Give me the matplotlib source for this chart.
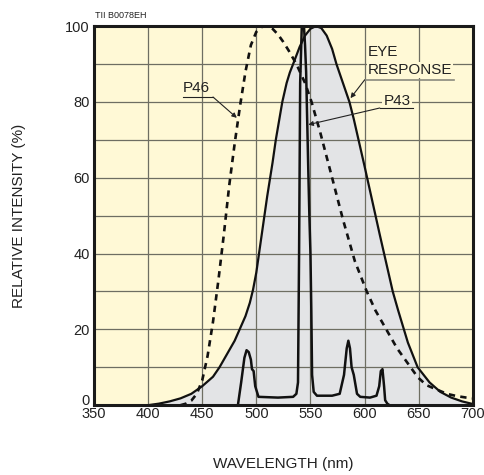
import numpy as np
import matplotlib.pyplot as plt
import matplotlib.transforms as mtrans

plt.rcParams['font.family'] = ['Liberation Sans', 'DejaVu Sans']

# eye response (photopic)
eye_wl = [400, 410, 420, 430, 440, 450, 460, 466, 470, 480, 490, 494, 497, 500, 505, 510,
          515, 518, 521, 524, 528, 531, 534, 540, 545, 550, 555, 560, 565, 570, 574, 580,
          586, 590, 600, 607, 614, 620, 626, 631, 640, 649, 660, 670, 680, 690, 700]
eye_val = [0, 0.4, 1.0, 1.8, 3.0, 5.0, 7.5, 10, 12, 17, 23.5, 27, 30.5, 35, 45, 55,
           64, 70, 75, 80, 85, 87.8, 90, 94.5, 97.5, 99.3, 100, 99.5, 97.5, 94, 90, 85,
           80, 75.5, 63, 54, 45, 37.5, 30, 25, 16.5, 10, 6, 3.5, 2, 1, 0.3]

# P46 phosphor (dashed)
p46_wl = [430, 435, 440, 445, 450, 455, 460, 465, 470, 475, 480, 485, 490, 495, 500, 505,
          510, 515, 520, 525, 530, 537, 545, 551, 559, 570, 580, 591, 602, 610, 620,
          630, 640, 649, 657, 666, 676, 685, 694, 700]
p46_val = [0, 0.4, 1.2, 3, 6.5, 13, 22, 33, 45, 58, 69, 79, 88, 95, 98.5, 99.8,
           100, 99.3, 97.8, 95.8, 93.5, 90, 85, 80, 72, 60, 49, 38, 30, 25, 20,
           15, 11, 7.4, 5.3, 4.2, 3.0, 2.4, 2.0, 1.8]

# P43 phosphor (solid, narrow lines)
p43_wl = [483, 486, 489, 491, 493, 495, 496, 497.5, 499, 502, 520, 534, 537, 538.5,
          539.5, 540.5, 542, 543, 544, 545, 546, 547, 548, 549, 550, 550.8, 551.5, 553,
          556, 570, 577, 581, 583.5, 585, 586.5, 588, 590, 593, 596, 605, 611, 613.5,
          615, 616.5, 618, 619, 621, 623]
p43_val = [0, 6, 12.5, 14.5, 14, 12, 9.5, 9, 5, 2.2, 2, 2.2, 3, 6,
           40, 85, 100, 100, 100, 95, 88, 75, 62, 50, 40, 25, 8, 3.5,
           2.5, 2.5, 3, 8, 15, 17, 15, 10, 8, 3, 2.2, 2, 2.5, 5,
           9, 9.5, 5, 1.3, 0.4, 0]

xticks = [350, 400, 450, 500, 550, 600, 650, 700]
yticks = [0, 20, 40, 60, 80, 100]

bg = '#fff9d6'
fig = plt.figure(figsize=(4.84, 4.75), dpi=100)
ax = fig.add_axes([0.194, 0.147, 0.783, 0.798])
ax.set_facecolor(bg)

ax.fill_between(eye_wl, eye_val, 0, color='#e3e4e6', zorder=1, lw=0)
ax.plot(eye_wl, eye_val, color='#111111', lw=1.6, zorder=3)
ax.plot(p46_wl, p46_val, color='#111111', lw=1.9, ls=(0, (2.4, 2.0)), zorder=3)
ax.plot(p43_wl, p43_val, color='#111111', lw=1.8, zorder=4, solid_joinstyle='round')

ax.set_xlim(350, 700)
ax.set_ylim(0, 100)
ax.set_xticks(xticks)
ax.set_yticks(yticks)
ax.set_yticks(np.arange(0, 101, 10), minor=True)
ax.tick_params(which='both', length=0, labelsize=10.5, colors='#222222')
ax.tick_params(axis='x', pad=1)
ax.tick_params(axis='y', pad=3)
ax.grid(True, which='both', color='#6e6e62', lw=0.9, zorder=2)
for s in ax.spines.values():
    s.set_linewidth(2.2)
    s.set_color('#1a1a1a')
    s.set_zorder(5)

# lift the "0" on the y axis a little so it sits above "350"
lbl0 = ax.get_yticklabels()[0]
lbl0.set_transform(lbl0.get_transform() + mtrans.ScaledTranslation(0, 4 / 72, fig.dpi_scale_trans))

ax.set_xlabel('WAVELENGTH (nm)', fontsize=11, labelpad=26, color='#222222')
ax.set_ylabel('RELATIVE INTENSITY (%)', fontsize=11, labelpad=28, color='#222222')

ax.text(351, 101.5, 'TII B0078EH', fontsize=6.5, color='#222222', va='bottom', ha='left')

# annotations
ax.text(445, 83.7, 'P46', fontsize=11, ha='center', va='center', color='#222222', zorder=6)
ax.plot([432, 460], [81.3, 81.3], color='#222222', lw=0.8, zorder=6)
ax.annotate('', xy=(482, 75.8), xytext=(460, 81.3),
            arrowprops=dict(arrowstyle='-|>', color='#222222', lw=0.8,
                            mutation_scale=7, shrinkA=0, shrinkB=0), zorder=6)

ax.text(603, 93.2, 'EYE', fontsize=11, ha='left', va='center', color='#222222',
        zorder=6, bbox=dict(facecolor=bg, edgecolor='none', pad=0.5))
ax.text(603, 88.4, 'RESPONSE', fontsize=11, ha='left', va='center', color='#222222',
        zorder=6, bbox=dict(facecolor=bg, edgecolor='none', pad=0.5))
ax.plot([600, 683], [85.8, 85.8], color='#8a8a7e', lw=1.2, zorder=6)
ax.annotate('', xy=(587, 81), xytext=(600, 85.8),
            arrowprops=dict(arrowstyle='-|>', color='#222222', lw=0.8,
                            mutation_scale=7, shrinkA=0, shrinkB=0), zorder=6)

ax.text(630, 80.3, 'P43', fontsize=11, ha='center', va='center', color='#222222',
        zorder=6, bbox=dict(facecolor=bg, edgecolor='none', pad=1.0))
ax.plot([614, 645], [78.4, 78.4], color='#222222', lw=0.8, zorder=6)
ax.annotate('', xy=(548, 74), xytext=(614, 78.4),
            arrowprops=dict(arrowstyle='-|>', color='#222222', lw=0.8,
                            mutation_scale=7, shrinkA=0, shrinkB=0), zorder=6)

fig.savefig('out.png', dpi=100)
